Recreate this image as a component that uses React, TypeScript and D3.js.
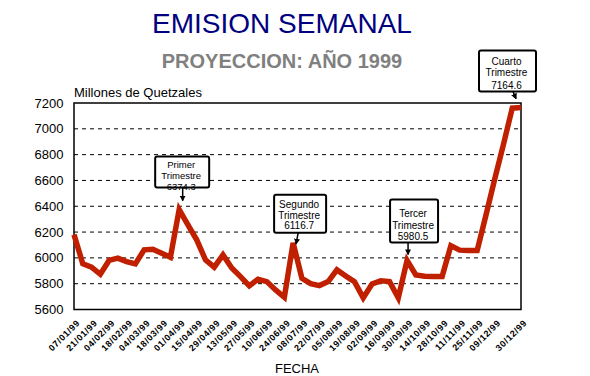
import React from "react";
import * as d3 from "d3";

const weeks = [
  "07/01/99","14/01/99","21/01/99","28/01/99","04/02/99","11/02/99","18/02/99","25/02/99",
  "04/03/99","11/03/99","18/03/99","25/03/99","01/04/99","08/04/99","15/04/99","22/04/99",
  "29/04/99","06/05/99","13/05/99","20/05/99","27/05/99","03/06/99","10/06/99","17/06/99",
  "24/06/99","01/07/99","08/07/99","15/07/99","22/07/99","29/07/99","05/08/99","12/08/99",
  "19/08/99","26/08/99","02/09/99","09/09/99","16/09/99","23/09/99","30/09/99","07/10/99",
  "14/10/99","21/10/99","28/10/99","04/11/99","11/11/99","18/11/99","25/11/99","02/12/99",
  "09/12/99","16/12/99","23/12/99","30/12/99",
];

const emision = [
  6180, 5955, 5928, 5873, 5980, 5998, 5971, 5953,
  6062, 6067, 6036, 6005, 6374.3, 6256, 6140, 5985,
  5928, 6023, 5922, 5855, 5783, 5835, 5816, 5752,
  5695, 6116.7, 5842, 5800, 5785, 5816, 5907, 5860,
  5815, 5690, 5798, 5822, 5816, 5690, 5980.5, 5868,
  5858, 5855, 5855, 6095, 6060, 6058, 6058, 6330,
  6610, 6880, 7160, 7164.6,
];

const tickLabels = [
  "07/01/99","21/01/99","04/02/99","18/02/99","04/03/99","18/03/99","01/04/99","15/04/99",
  "29/04/99","13/05/99","27/05/99","10/06/99","24/06/99","08/07/99","22/07/99","05/08/99",
  "19/08/99","02/09/99","16/09/99","30/09/99","14/10/99","28/10/99","11/11/99","25/11/99",
  "09/12/99","30/12/99",
];

const yTicks = [5600, 5800, 6000, 6200, 6400, 6600, 6800, 7000, 7200];

const annotationWeeks = ["01/04/99", "01/07/99", "30/09/99", "30/12/99"];
const annotationTitles = [
  ["Primer", "Trimestre"],
  ["Segundo", "Trimestre"],
  ["Tercer", "Trimestre"],
  ["Cuarto", "Trimestre"],
];

// layout for annotation boxes (relative to the annotated point)
const boxLayout = [
  { dx: 3, top: -53, w: 54, h: 31, lines: [8.5, 19.5, 30.5], ax0: 3.5, ay0: -22, ax1: 3.5, ay1: -9 },
  { dx: 7, top: -48, w: 52, h: 38, lines: [9.5, 21, 31], ax0: 5, ay0: -10, ax1: 3, ay1: 1 },
  { dx: 7, top: -61, w: 48, h: 43, lines: [14.5, 26, 37], ax0: 1, ay0: -18, ax1: 1, ay1: -6 },
  { dx: -13.5, top: -57, w: 57, h: 41, lines: [10.5, 22, 34.5], ax0: -8, ay0: -16, ax1: -5, ay1: -9 },
];

const FONT = "Arial, 'Liberation Sans', Helvetica, sans-serif";

export default function App() {
  const W = 590, H = 376;
  const left = 74, right = 521, top = 103, bottom = 309.5;
  const x = d3.scalePoint<string>().domain(weeks).range([left, right]);
  const y = d3.scaleLinear().domain([5600, 7200]).range([bottom, top]);
  const line = d3.line<number>()
    .x((_, i) => x(weeks[i]) as number)
    .y((d) => y(d));

  return (
    <svg width={W} height={H} style={{ position: "absolute", left: 0, top: 0, background: "#fff" }} fontFamily={FONT}>
      <defs>
        <marker id="arr" viewBox="0 0 6 6" refX="5" refY="3" markerWidth="4" markerHeight="4" orient="auto">
          <path d="M0,0 L6,3 L0,6 z" fill="#000" />
        </marker>
      </defs>
      <rect x={0} y={0} width={W} height={H} fill="#fff" />
      <text x={282} y={33} textAnchor="middle" fontSize={28} fill="#000080">EMISION SEMANAL</text>
      <text x={282} y={68} textAnchor="middle" fontSize={20} fontWeight="bold" fill="#808080">PROYECCION: AÑO 1999</text>
      <text x={74} y={97} fontSize={13} fill="#000">Millones de Quetzales</text>

      {yTicks.slice(1, -1).map((t) => (
        <line key={t} x1={left} x2={right} y1={y(t)} y2={y(t)} stroke="#000" strokeWidth={1} strokeDasharray="4,4" />
      ))}
      {yTicks.map((t) => (
        <text key={"l" + t} x={63.5} y={y(t)} dy="0.35em" textAnchor="end" fontSize={13} fill="#000">{t}</text>
      ))}
      <rect x={left} y={top} width={right - left} height={bottom - top} fill="none" stroke="#000" strokeWidth={1.5} />

      <path d={line(emision) || ""} fill="none" stroke="#C02000" strokeWidth={5.5} strokeLinejoin="miter" strokeMiterlimit={3} />

      {tickLabels.map((t) => (
        <text key={t} transform={`translate(${(x(t) as number) + 2},319) rotate(-45)`} textAnchor="end"
          dominantBaseline="hanging" fontSize={9} fontWeight="bold" letterSpacing={0.6} fill="#000">{t}</text>
      ))}

      <text x={297} y={373} textAnchor="middle" fontSize={13} fill="#000">FECHA</text>

      {annotationWeeks.map((wk, k) => {
        const i = weeks.indexOf(wk);
        const px = x(wk) as number;
        const py = y(emision[i]);
        const L = boxLayout[k];
        const cx = px + L.dx;
        const bx = cx - L.w / 2;
        const by = py + L.top;
        const texts = [...annotationTitles[k], d3.format(".1f")(emision[i])];
        return (
          <g key={wk}>
            <line x1={px + L.ax0} y1={py + L.ay0} x2={px + L.ax1} y2={py + L.ay1} stroke="#000" strokeWidth={1.5} markerEnd="url(#arr)" />
            <rect x={bx} y={by} width={L.w} height={L.h} rx={2} fill="#fff" stroke="#000" strokeWidth={2} />
            {texts.map((s, j) => (
              <text key={j} x={cx - 1} y={by + L.lines[j]} dy="0.35em" textAnchor="middle" fontSize={k === 0 ? 9.5 : 10} fill="#000">{s}</text>
            ))}
          </g>
        );
      })}
    </svg>
  );
}
